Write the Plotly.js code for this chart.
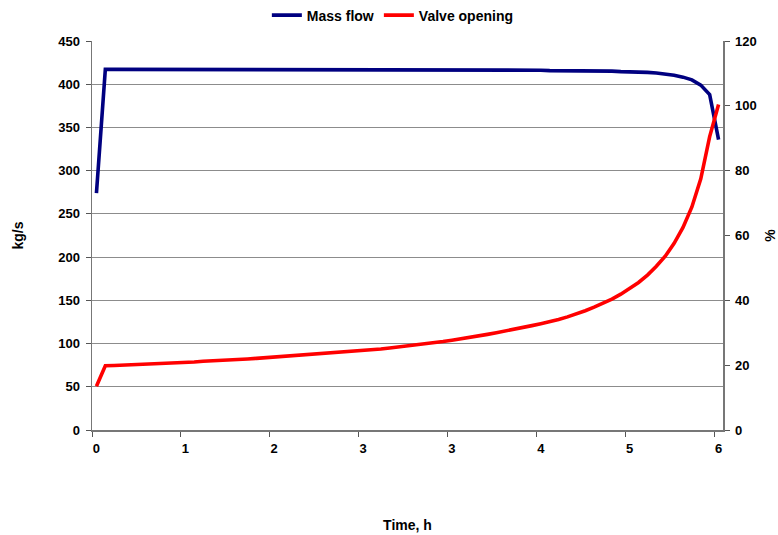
<!DOCTYPE html>
<html>
<head>
<meta charset="utf-8">
<script src="https://cdn.plot.ly/plotly-3.0.1.min.js"></script>
<style>
  html, body { margin: 0; padding: 0; background: #ffffff; }
  #chart { width: 778px; height: 535px; }
</style>
</head>
<body>
<div id="chart"></div>
<script>
// 71 time steps from 0 to 6 h (category axis in the original)
const nSteps = 70;
const tEnd = 6;
const timeH = Array.from({length: nSteps + 1}, (_, i) => i * tEnd / nSteps);

// Tick labels as shown (rounded category labels, every 10th step)
const tickLabels = ["0", "1", "2", "3", "3", "4", "5", "6"];

// Mass flow, kg/s
const massFlow = [
  274,
  417.2, 417.2, 417.2, 417.2, 417.2, 417.2, 417.2, 417.2, 417.2, 417.2,
  417.2, 417.2, 417.2, 417.2, 417.2, 417.2, 417.2, 417.2, 417.2, 417.2,
  417.2, 417.2, 417.2, 417.2, 417.2, 417.2, 417.2, 417.2, 417.2, 417.2,
  417.2, 417.2, 417.2, 416.8, 416.8, 416.8, 416.8, 416.8, 416.8, 416.8,
  416.2, 416.2, 416.2, 416.2, 416.2, 416.2, 416.2, 416.2, 416.2, 416.2,
  415.7, 415.7, 415.7, 415.7, 415.7, 415.2, 415.2, 415.2, 414.6, 414.6,
  414.2, 413.7, 413.0, 412.0, 410.3, 408.2, 405.0, 399.0, 388.0, 336.0
];

// Valve opening, %
const valveOpening = [
  13.5,
  19.8, 19.9, 20.0, 20.1, 20.2, 20.3, 20.5, 20.6, 20.8, 20.9,
  21.0, 21.2, 21.3, 21.5, 21.6, 21.8, 21.9, 22.1, 22.3, 22.5,
  22.6, 22.8, 23.0, 23.2, 23.4, 23.6, 23.8, 24.0, 24.3, 24.5,
  24.8, 25.0, 25.3, 25.6, 25.9, 26.2, 26.5, 26.9, 27.3, 27.7,
  28.1, 28.5, 29.0, 29.5, 30.0, 30.5, 31.0, 31.6, 32.2, 32.8,
  33.4, 34.1, 34.9, 35.8, 36.8, 37.9, 39.1, 40.4, 41.9, 43.6,
  45.5, 47.8, 50.5, 53.6, 57.6, 62.5, 68.8, 77.5, 90.5, 100.4
];

const half = tEnd / nSteps / 2;
const xRange = [-half, tEnd + half];
// tick marks at category boundaries, labels at category centres
const tickMarkVals = tickLabels.map((_, k) => timeH[k * 10] - half);
const tickLabelVals = tickLabels.map((_, k) => timeH[k * 10]);

const FONT = "Liberation Sans, Arial, sans-serif";
const bold = {family: FONT, size: 13, color: "#000000", weight: 700};
const titleFont = {family: FONT, size: 14, color: "#000000", weight: 700};

const traces = [
  {
    x: timeH, y: massFlow, name: "Mass flow", type: "scatter", mode: "lines",
    line: {color: "#000080", width: 3.6}, xaxis: "x", yaxis: "y", hoverinfo: "skip"
  },
  {
    x: timeH, y: valveOpening, name: "Valve opening", type: "scatter", mode: "lines",
    line: {color: "#ff0000", width: 3.6}, xaxis: "x", yaxis: "y2", hoverinfo: "skip"
  },
  // helper trace so the label axis (x2) is drawn
  {x: [timeH[0]], y: [null], xaxis: "x2", yaxis: "y", showlegend: false, hoverinfo: "skip", mode: "lines"}
];

const layout = {
  width: 778, height: 535,
  margin: {l: 92, r: 55, t: 41, b: 105},
  paper_bgcolor: "#ffffff", plot_bgcolor: "#ffffff",
  showlegend: true,
  legend: {
    orientation: "h", xref: "container", yref: "container",
    x: 0.343, y: 0.971, xanchor: "left", yanchor: "middle",
    font: {family: FONT, size: 14, color: "#000000", weight: 700},
    itemwidth: 30, tracegroupgap: 0, bgcolor: "rgba(0,0,0,0)"
  },
  xaxis: {
    range: xRange, type: "linear",
    tickmode: "array", tickvals: tickMarkVals, ticktext: tickLabels.map(() => ""),
    ticks: "outside", ticklen: 5, tickcolor: "#555555",
    showgrid: false, zeroline: false,
    showline: true, linecolor: "#777777", linewidth: 1.5,
    title: {text: "Time, h", font: titleFont, standoff: 82},
    fixedrange: true
  },
  xaxis2: {
    range: xRange, type: "linear", overlaying: "x", anchor: "y", side: "bottom",
    tickmode: "array", tickvals: tickLabelVals, ticktext: tickLabels,
    ticks: "outside", ticklen: 6, tickcolor: "rgba(0,0,0,0)",
    showgrid: false, zeroline: false, showline: false,
    tickfont: bold, fixedrange: true
  },
  yaxis: {
    range: [0, 450], tickmode: "array", tickvals: [0, 50, 100, 150, 200, 250, 300, 350, 400, 450],
    ticks: "outside", ticklen: 5, tickcolor: "#555555",
    showgrid: true, gridcolor: "#8c8c8c", gridwidth: 1,
    zeroline: false, showline: true, linecolor: "#777777", linewidth: 1.5,
    tickfont: bold, ticklabelstandoff: 3,
    title: {text: "kg/s", font: titleFont, standoff: 31},
    fixedrange: true
  },
  yaxis2: {
    range: [0, 120], overlaying: "y", side: "right", anchor: "x",
    tickmode: "array", tickvals: [0, 20, 40, 60, 80, 100, 120],
    ticks: "outside", ticklen: 5, tickcolor: "#555555",
    showgrid: false, zeroline: false, showline: true, linecolor: "#777777", linewidth: 1.5,
    tickfont: bold, ticklabelstandoff: 3,
    title: {text: "%", font: titleFont, standoff: 14},
    fixedrange: true
  }
};

Plotly.newPlot("chart", traces, layout, {displayModeBar: false, staticPlot: true});
</script>
</body>
</html>
